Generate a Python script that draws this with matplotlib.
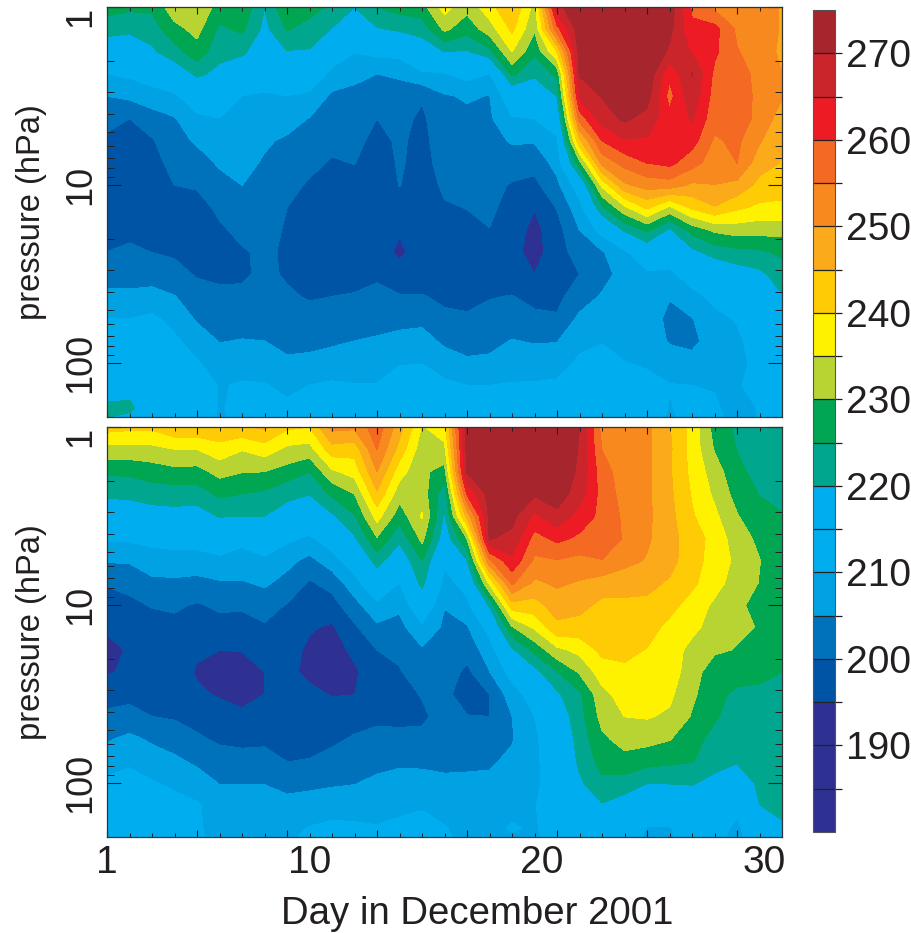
import numpy as np
import matplotlib
matplotlib.use('Agg')
import matplotlib.pyplot as plt

plt.rcParams['font.family'] = ['Liberation Sans', 'DejaVu Sans']
ink = '#231F20'

days = list(range(1, 32))
pressure = [1, 1.33, 1.78, 2.37, 3.16, 4.22, 5.62, 7.5, 10, 13.3, 17.8, 23.7, 31.6, 42.2, 56.2, 75, 100, 133, 178, 200]

# one row per day, top of the atmosphere first
temp_top = [
    [227, 222, 216, 210, 205, 201.6, 199, 198, 197, 197, 198, 200, 203, 206, 210, 212, 214, 217, 221, 220],
    [226, 221, 216, 211, 206, 200, 198, 197, 196.5, 197, 198.5, 201, 203, 206, 210, 212, 214, 218, 221, 219],
    [226, 222.5, 219, 213, 207.5, 203, 199.5, 198, 197, 197, 198, 199.9, 203, 206.5, 211, 212, 214, 215, 216, 216],
    [233, 228.4, 223, 216, 209, 204.6, 203.4, 201.8, 200, 199, 199.2, 199.4, 201.3, 205.2, 208, 211, 213.5, 215, 216, 216],
    [234, 231.5, 228, 221, 214, 208.6, 205.6, 203, 200.4, 198.5, 198, 198.5, 199.6, 201.7, 204.4, 207.4, 210.6, 213, 214.5, 215],
    [228, 224, 221.5, 218.6, 214.2, 209.9, 207.6, 205.6, 203.2, 200.8, 199.4, 199, 199.2, 200.9, 202.9, 204.8, 207.2, 209.6, 209.5, 209],
    [229, 226, 221, 215.5, 209.8, 208.7, 207.5, 206.3, 205, 203, 201, 199.6, 199.3, 200.9, 203, 205.2, 207.9, 210.5, 211.5, 212],
    [220, 218.5, 216, 213, 209.3, 207.4, 205.6, 204.5, 203.5, 202.5, 201.5, 200.7, 200.9, 201.7, 203.3, 205, 207.6, 210.3, 212, 212],
    [229.8, 225.3, 219.7, 214.6, 209.9, 206.9, 204.3, 203, 201.2, 200, 199.5, 199.4, 199.5, 200.6, 202.2, 203.8, 205.7, 208.7, 211, 211.5],
    [227, 223, 219.5, 214, 208.9, 204.8, 203.1, 201, 199.5, 198.8, 198.2, 198.5, 198.9, 199.6, 201.5, 203.6, 206.3, 210, 212, 212],
    [224, 219.7, 213.2, 208.5, 204, 202.5, 201, 199.6, 198.5, 198, 197.8, 198.2, 198.7, 200, 202.1, 204.2, 207.2, 210.7, 212, 212],
    [220, 216, 210.2, 206, 203.9, 202.6, 201.4, 200.1, 198.6, 198, 197.5, 197.8, 198.5, 200.3, 202.6, 205, 207.7, 210.2, 212.5, 213],
    [225, 219.5, 211.5, 205, 203.4, 200, 198.4, 197.6, 197, 196, 195, 197.3, 199.3, 201.1, 203.3, 205.5, 208, 210.2, 213, 213],
    [227, 220.8, 212, 205.3, 204.1, 201.5, 200.8, 200.5, 200.1, 198.5, 195.5, 194, 197.2, 200.3, 203.7, 206.2, 209.6, 213, 214, 214],
    [228, 222, 216.5, 209, 200.6, 199, 198.5, 198.4, 198, 197.5, 197, 197.2, 198, 200.2, 203.7, 206.9, 209.9, 212.5, 214, 214],
    [237, 231, 220, 209.5, 204.5, 203.7, 202.8, 201.7, 200.7, 199.6, 198.8, 198.5, 198.8, 199.3, 200.7, 204, 207.5, 211, 213, 213],
    [231.5, 227, 219.5, 212, 205.5, 204, 203, 202, 201, 200.1, 199, 198.5, 198.5, 199.1, 200.4, 202.9, 205.9, 210, 213, 213],
    [238, 232.5, 223.5, 209.8, 204.8, 204.2, 203.2, 202.3, 201.5, 200.8, 199.9, 199.4, 199.1, 199.7, 201.6, 203.6, 206, 210, 213, 213],
    [245, 241, 235, 226, 214, 209.5, 205.5, 202.6, 199.5, 198.5, 197.5, 196.2, 197, 200.2, 202.5, 205.2, 208, 210.3, 213, 213],
    [233, 230.5, 226, 221, 215, 210, 205.4, 201.8, 198.6, 195.2, 193.5, 193.5, 195, 198.3, 201.3, 204.6, 207.5, 210.5, 213, 213],
    [268, 258, 240, 226, 220, 214, 209, 206.7, 203.8, 200.3, 198, 197, 197.3, 198.7, 200.5, 204.8, 207.5, 211, 213, 213],
    [275, 273, 272, 270.5, 266.2, 257, 244, 228, 213, 208, 205, 203, 200, 202.5, 206, 208.5, 211, 213, 214, 214],
    [275, 275, 274, 272, 270.3, 267.2, 260, 251.5, 236, 224, 212, 204.5, 203, 205.5, 207, 209.7, 212, 213.5, 215, 215],
    [276, 276, 275, 274, 273, 271, 264.5, 256.7, 249, 234, 220.7, 209, 207, 206.5, 207, 207.7, 210.2, 213, 215, 215],
    [276, 275.5, 275, 274, 272, 268.2, 264.4, 260, 252, 241, 226, 215, 209, 208, 208, 208, 209.2, 212, 214, 214],
    [273, 271.5, 269, 261, 258, 261.5, 262, 261.2, 252.6, 234, 219, 213, 209, 205.3, 203.5, 204.5, 207.5, 210.2, 209.6, 209],
    [259, 261, 264.5, 270.2, 268.5, 265.5, 262, 257, 249, 241, 227, 218.5, 212, 208.7, 204.7, 203.5, 207, 210, 212, 212],
    [254, 261.5, 261, 258.8, 257.7, 256.7, 254.3, 252.2, 249.9, 244.7, 231, 222, 214.5, 211, 208.9, 207.7, 207.5, 209.5, 211, 212],
    [252, 254, 255.3, 257, 258, 257.5, 256, 255, 248.5, 241, 232.3, 223.5, 217, 213, 210.3, 209, 208.5, 209.7, 207, 207],
    [253, 252.7, 252.5, 253.5, 253.5, 253.5, 250.5, 247, 243.5, 239, 232, 224, 218.7, 216, 214, 212.5, 211.5, 211, 210.5, 210.5],
    [249.5, 249.5, 249, 250, 250.3, 247.5, 245.5, 244.7, 242, 239, 231.8, 226, 222.5, 219.5, 217, 215, 214, 213, 212, 212],
]

temp_bottom = [
    [242, 233.2, 225.8, 221, 216, 210.5, 205.4, 200.4, 198, 195.7, 193.5, 194.4, 198, 201, 204.4, 207.8, 211, 213, 214.5, 215],
    [241.2, 233.3, 226, 221.2, 216.4, 210.8, 205.5, 201.5, 198.8, 197.2, 195.5, 196, 198.5, 201.7, 206, 209.1, 212, 214, 215, 215],
    [241, 233.5, 227.4, 222.3, 217.5, 211.3, 207.9, 203.7, 200.3, 198, 197, 197, 198.5, 200, 204.2, 207.2, 210.4, 213, 215, 215],
    [244, 235, 228.5, 222.5, 218, 212, 208, 204, 200.7, 198.7, 197.5, 197.3, 198.3, 199.5, 202.5, 206, 208.9, 212, 214, 214],
    [244, 235, 228.2, 222.5, 217.5, 212, 208, 203.4, 199.5, 197.7, 195.7, 194.5, 195.8, 198.5, 200.6, 203.9, 207.6, 210.5, 210.5, 210.7],
    [244, 238, 231.6, 226, 220.3, 213, 209, 204.4, 200.8, 198.3, 195, 193, 194.5, 197, 199.2, 202, 204.8, 207.5, 208.5, 208.5],
    [244, 235.3, 230.2, 225, 220, 211, 208.5, 204.5, 200.6, 198.4, 195.2, 192.8, 193, 196.2, 198.7, 201.7, 204.8, 207.5, 208.5, 208.5],
    [246, 237.5, 230, 224, 220, 212.5, 209.3, 205.8, 201.8, 199.5, 197, 195, 195, 197, 199, 201.7, 204.8, 207.5, 209, 209],
    [240.8, 233.8, 228, 221, 218, 211, 206.5, 203.2, 199.7, 198, 197, 196, 196.5, 197.3, 198.5, 199.9, 203.7, 206.3, 208.5, 209],
    [240, 233, 225, 220.2, 214.9, 209.1, 203.5, 199.4, 197.9, 195.5, 194, 194, 196, 197, 198.5, 200.2, 204, 206.8, 210.2, 211],
    [251.5, 243, 234, 226, 219, 213, 207.7, 201.7, 198, 194.3, 192.5, 192.5, 194.7, 197.2, 199, 201.5, 204.3, 208, 211, 211.5],
    [251, 242, 237, 230, 224.5, 219.2, 213, 208, 203.2, 199.2, 196.3, 194, 194.9, 198, 200.5, 202.6, 204.8, 207.8, 210.8, 211],
    [258, 255, 250, 244, 237, 229.5, 222, 215, 208.7, 204, 200, 198.8, 198.8, 199.3, 200.9, 203.5, 206, 208, 210.3, 210.5],
    [247, 243, 237, 232, 227, 221.2, 215.6, 209.9, 206, 203.4, 201, 199.6, 198.3, 199.2, 200.8, 204.2, 206.6, 208.9, 211, 211.5],
    [234.5, 232, 231, 232.5, 235.5, 231.3, 225, 221.5, 215.3, 208.8, 204.4, 202.5, 200.3, 199, 201.3, 204, 206.7, 209.4, 212, 212],
    [238, 233.5, 228, 221.7, 219, 216.5, 211, 208, 205.2, 204, 203.5, 202.7, 202, 202, 202.5, 204, 205.8, 207.8, 210.3, 211],
    [272, 271.5, 270.5, 260.5, 246.5, 230, 219.5, 212.2, 208.5, 204.5, 202, 198.8, 196, 200.3, 202, 204, 206, 207, 208, 208],
    [274, 274, 273, 272, 271, 270.4, 254, 236, 220.5, 212, 207.5, 204.8, 200, 200, 202.5, 204.3, 206, 208, 208.5, 208.5],
    [275, 275, 274.5, 273.5, 271.6, 268.6, 263.8, 255.8, 243, 229.4, 219, 212, 207.6, 204.9, 204.6, 206, 207.5, 208.5, 210.5, 209.5],
    [275, 274, 273, 270.8, 263.8, 258, 254, 249, 243, 235.7, 226.5, 218, 212.5, 209.9, 209, 209, 209, 209.8, 209.3, 209],
    [275, 275, 274, 272.8, 268.5, 261.2, 254.7, 250.8, 247.3, 243.8, 233.7, 224.7, 219, 216, 214, 213, 212.5, 212, 213, 213],
    [270, 269.5, 269, 267.3, 263, 259, 253.5, 249.5, 246.6, 243, 236.5, 230.5, 224, 223, 222, 221, 219, 216.5, 215, 215],
    [253, 254.8, 257, 258, 258.5, 258, 254.8, 247.6, 243.7, 242.7, 241.3, 237.5, 233.4, 231.5, 229, 226.9, 223.7, 219.5, 215.5, 215],
    [251, 252, 252.5, 253, 254, 254.5, 251.5, 247, 243.9, 242.7, 241, 239.2, 237.2, 235, 231.8, 228.4, 222.7, 217, 214.5, 214],
    [251, 251, 251, 251, 251, 250.7, 249.6, 246.8, 243.5, 241.9, 239.8, 238.3, 236.8, 235.4, 231.7, 226.8, 220, 215, 209.5, 209],
    [245.2, 245.8, 245.6, 246, 246.5, 247, 247, 244.2, 241.6, 238.7, 238.1, 237.3, 236, 234.2, 230.3, 226, 220.1, 215, 209.7, 209.5],
    [238, 238, 238.5, 239.5, 240.5, 242, 241.5, 241, 238, 236.7, 233, 232.5, 231, 229.5, 226.5, 225.3, 220.3, 216, 212, 212],
    [228, 229.5, 232.5, 234, 236, 238.5, 238.4, 237, 234, 232.3, 230.9, 226.8, 226.3, 225.6, 223.7, 221.7, 218.5, 215, 213, 212],
    [224, 224.8, 226, 228, 230.3, 232, 233.6, 232.5, 231.2, 231, 229.7, 227, 224, 222.5, 221.5, 220.4, 216.5, 212, 208.5, 208],
    [222, 222.7, 223.6, 224.8, 226.5, 229, 230.1, 229.8, 228, 229.7, 227, 225.7, 224.4, 224, 223.3, 222.7, 220.9, 219.9, 216, 215],
    [221, 221.5, 222.3, 223.6, 225.3, 227, 227.5, 227, 226.8, 226.7, 226.3, 225, 223.8, 223.2, 222.9, 222.5, 222, 221.2, 219.3, 218],
]

levels = list(range(180, 280, 5))
colors = ['#2E3192', '#2E3192', '#2E3192', '#0054A6', '#0072BC', '#00A2E3', '#00AEEF', '#00AEEF', '#00A78E', '#00A651',
          '#B7D433', '#FFF200', '#FFCB05', '#FBAA19', '#F7891F', '#F46A22', '#ED1C24', '#C9252B', '#A7262D']
cbar_labels = ['', '190', '', '200', '', '210', '', '220', '', '230', '', '240', '', '250', '', '260', '', '270']
day_labels = ['1', '10', '20', '30']
day_label_pos = [1, 10, 20.3, 30.2]
p_major = [1, 10, 100]
p_minor = [2, 3, 4, 5, 6, 7, 8, 9, 20, 30, 40, 50, 60, 70, 80, 90, 200]

W, H = 912, 933


def px_axes(left, top, right, bottom):
    return fig.add_axes([left / W, 1 - bottom / H, (right - left) / W, (bottom - top) / H])


fig = plt.figure(figsize=(W / 100, H / 100), dpi=100)
ax1 = px_axes(107, 7, 782, 417)
ax2 = px_axes(107, 427, 782, 837)

# contour in log pressure so segments stay straight between levels
log_p = np.log10(pressure)
for ax, temp in [(ax1, temp_top), (ax2, temp_bottom)]:
    T = np.clip(np.array(temp).T, 180.01, 274.99)
    cs = ax.contourf(days, log_p, T, levels=levels, colors=colors)
    cs.set_edgecolor('face')
    cs.set_linewidth(0.3)
    ax.set_ylim(np.log10(200), 0)
    ax.set_xlim(1, 31)
    ax.set_xticks(range(1, 32, 4))
    ax.set_xticks(days, minor=True)
    ax.set_xticklabels([])
    ax.set_yticks(np.log10(p_major))
    ax.set_yticks(np.log10(p_minor), minor=True)
    ax.set_yticklabels(['1', '10', '100'], rotation=90, va='center', fontsize=26, color=ink)
    ax.yaxis.get_majorticklabels()[0].set_va('top')
    ax.tick_params(axis='x', which='major', direction='in', length=5, width=0.8, top=True, color=ink)
    ax.tick_params(axis='x', which='minor', direction='in', length=3, width=0.7, top=True, color=ink)
    ax.tick_params(axis='y', which='major', direction='in', length=10, width=0.8, right=True, color=ink, pad=6)
    ax.tick_params(axis='y', which='minor', direction='in', length=5, width=0.7, right=True, color=ink)
    ax.set_ylabel('pressure (hPa)', fontsize=23.5, color=ink, labelpad=12)
    for s in ax.spines.values():
        s.set_linewidth(0.9)
        s.set_color('#333333')

for d, lab in zip(day_label_pos, day_labels):
    ax2.annotate(lab, xy=(d, 0), xycoords=ax2.get_xaxis_transform(), xytext=(0, -6),
                 textcoords='offset points', ha='center', va='top', fontsize=28, color=ink)
fig.text(477 / W, 1 - 914 / H, 'Day in December 2001', ha='center', va='center', fontsize=27.6, color=ink)
fig.align_ylabels([ax1, ax2])

cax = px_axes(813, 10, 835, 832)
cb = fig.colorbar(cs, cax=cax, drawedges=True)
cb.set_ticks(levels[1:-1], labels=cbar_labels)
cb.ax.minorticks_off()
cb.ax.tick_params(direction='out', length=5, width=0.9, labelsize=28, pad=3, color=ink, labelcolor=ink)
cb.dividers.set_color('#222222')
cb.dividers.set_linewidth(0.9)
cb.outline.set_edgecolor('#555555')
cb.outline.set_linewidth(0.8)

fig.savefig('out.png', dpi=100)
